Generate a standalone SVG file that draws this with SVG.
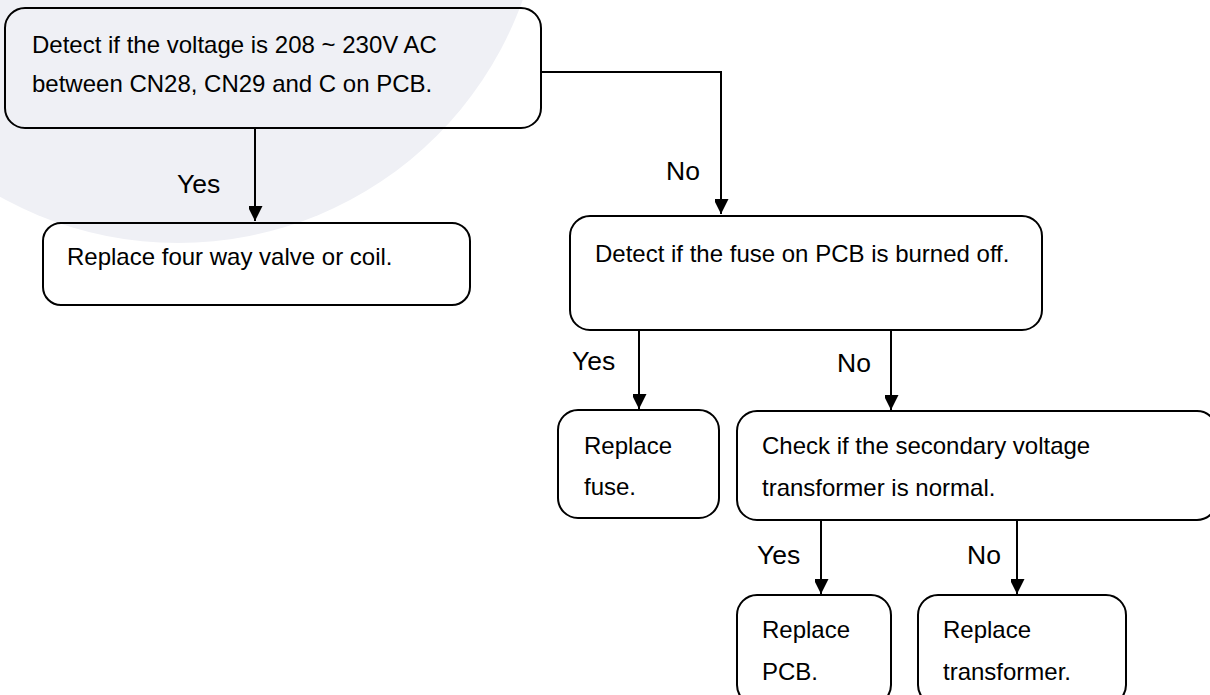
<svg xmlns="http://www.w3.org/2000/svg" width="1210" height="695" viewBox="0 0 1210 695">
<style>
.box{fill:none;stroke:#000;stroke-width:2}
.t{font-family:"Liberation Sans",Arial,sans-serif;font-size:24px;fill:#000}
.lbl{font-family:"Liberation Sans",Arial,sans-serif;font-size:26.5px;fill:#000}
.c{stroke:#000;stroke-width:2;fill:none}
</style>
<defs>
<marker id="ah" markerUnits="userSpaceOnUse" markerWidth="16" markerHeight="14" refX="15" refY="7.5" orient="auto">
<path d="M0,0 L15,7.5 L0,15 Z" fill="#000"/>
</marker>
</defs>
<rect width="1210" height="695" fill="#fff"/>
<circle cx="178" cy="-123" r="366" fill="#eff0f5"/>
<g id="connectors">
<path class="c" d="M255,128 V221" marker-end="url(#ah)"/>
<path class="c" d="M541,72 H721 V214" marker-end="url(#ah)"/>
<path class="c" d="M639,330 V409" marker-end="url(#ah)"/>
<path class="c" d="M891,330 V410" marker-end="url(#ah)"/>
<path class="c" d="M821,520 V594" marker-end="url(#ah)"/>
<path class="c" d="M1017,520 V594" marker-end="url(#ah)"/>
<text class="lbl" x="177" y="193">Yes</text>
<text class="lbl" x="666" y="180">No</text>
<text class="lbl" x="572" y="370">Yes</text>
<text class="lbl" x="837" y="372">No</text>
<text class="lbl" x="757" y="564">Yes</text>
<text class="lbl" x="967" y="564">No</text>
</g>
<g id="n1">
<rect class="box" x="5" y="8" width="536" height="120" rx="20"/>
<text class="t" x="32" y="53">Detect if the voltage is 208 ~ 230V AC</text>
<text class="t" x="32" y="92">between CN28, CN29 and C on PCB.</text>
</g>
<g id="n2">
<rect class="box" x="43" y="223" width="427" height="82" rx="18" fill="#fff"/>
<text class="t" x="67" y="265">Replace four way valve or coil.</text>
</g>
<g id="n3">
<rect class="box" x="570" y="216" width="472" height="114" rx="20" fill="#fff"/>
<text class="t" x="595" y="262">Detect if the fuse on PCB is burned off.</text>
</g>
<g id="n4">
<rect class="box" x="558" y="410" width="161" height="108" rx="20" fill="#fff"/>
<text class="t" x="584" y="454">Replace</text>
<text class="t" x="584" y="495">fuse.</text>
</g>
<g id="n5">
<rect class="box" x="737" y="411" width="480" height="109" rx="20" fill="#fff"/>
<text class="t" x="762" y="454">Check if the secondary voltage</text>
<text class="t" x="762" y="496">transformer is normal.</text>
</g>
<g id="n6">
<rect class="box" x="737" y="595" width="154" height="110" rx="20" fill="#fff"/>
<text class="t" x="762" y="638">Replace</text>
<text class="t" x="762" y="680">PCB.</text>
</g>
<g id="n7">
<rect class="box" x="918" y="595" width="208" height="110" rx="20" fill="#fff"/>
<text class="t" x="943" y="638">Replace</text>
<text class="t" x="943" y="680">transformer.</text>
</g>
</svg>
